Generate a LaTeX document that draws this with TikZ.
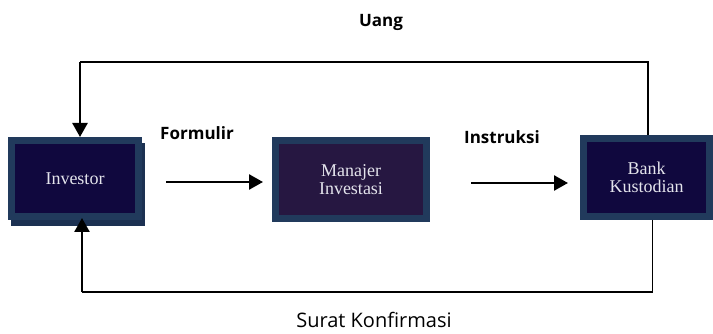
\documentclass[tikz,border=0pt]{standalone}
\usepackage{fontspec}
\setmainfont{Liberation Serif}
\newfontfamily\lblfont{Open Sans}
\usetikzlibrary{arrows.meta}

\definecolor{rim}{HTML}{213A5C}
\definecolor{rimshade}{HTML}{1C3152}
\definecolor{navy}{HTML}{10083E}
\definecolor{plum}{HTML}{261741}
\definecolor{boxtext}{HTML}{E4E4EC}

\tikzset{
  box/.style={draw=rim, line width=7pt, text=boxtext, align=center,
    font=\fontsize{18}{18.5}\selectfont, inner sep=0pt},
  flow/.style={line width=2.5pt, -{Triangle[width=15pt,length=14pt]}},
  wire/.style={line width=1.5pt},
  lbl/.style={font=\lblfont\bfseries\fontsize{17}{20}\selectfont},
}

\begin{document}
\begin{tikzpicture}[x=1pt,y=-1pt]
\useasboundingbox (0,0) rectangle (713,334);

% shadow under the investor box
\fill[rimshade] (11,143) rectangle (145,226);

\draw (75,178.5)  node (investor) [box, fill=navy, minimum width=127pt, minimum height=76pt] {Investor};
\draw (351,179.5) node (manajer)  [box, fill=plum, minimum width=151pt, minimum height=78pt] {Manajer\\Investasi};
\draw (646.5,177.5) node (bank)   [box, fill=navy, minimum width=126pt, minimum height=78pt] {Bank\\Kustodian};

\coordinate (uang)  at (80,62);
\coordinate (surat) at (82,292);

% money goes back from the bank
\draw[wire] ([xshift=1.5pt]bank.north) |- (uang);
\draw[flow] (uang) -- (uang |- investor.north);

% confirmation letter
\draw[wire] ([xshift=6pt]bank.south) |- (surat);
\draw[flow] (surat) -- ([yshift=2pt]surat |- investor.south);

\draw[flow, shorten <=24pt, shorten >=9pt] ([yshift=-3.5pt]investor.east) -- ([yshift=-2.5pt]manajer.west);
\draw[flow, shorten <=41pt, shorten >=12pt] ([yshift=-3.5pt]manajer.east) -- ([yshift=-5.5pt]bank.west);

\draw (381,22)  node (uanglbl)  [lbl] {Uang};
\draw (197,133) node (formlbl)  [lbl] {Formulir};
\draw (502,137) node (instrlbl) [lbl] {Instruksi};
\draw (374,320) node (suratlbl) [font=\lblfont\fontsize{20}{24}\selectfont] {Surat Konfirmasi};
\end{tikzpicture}
\end{document}
